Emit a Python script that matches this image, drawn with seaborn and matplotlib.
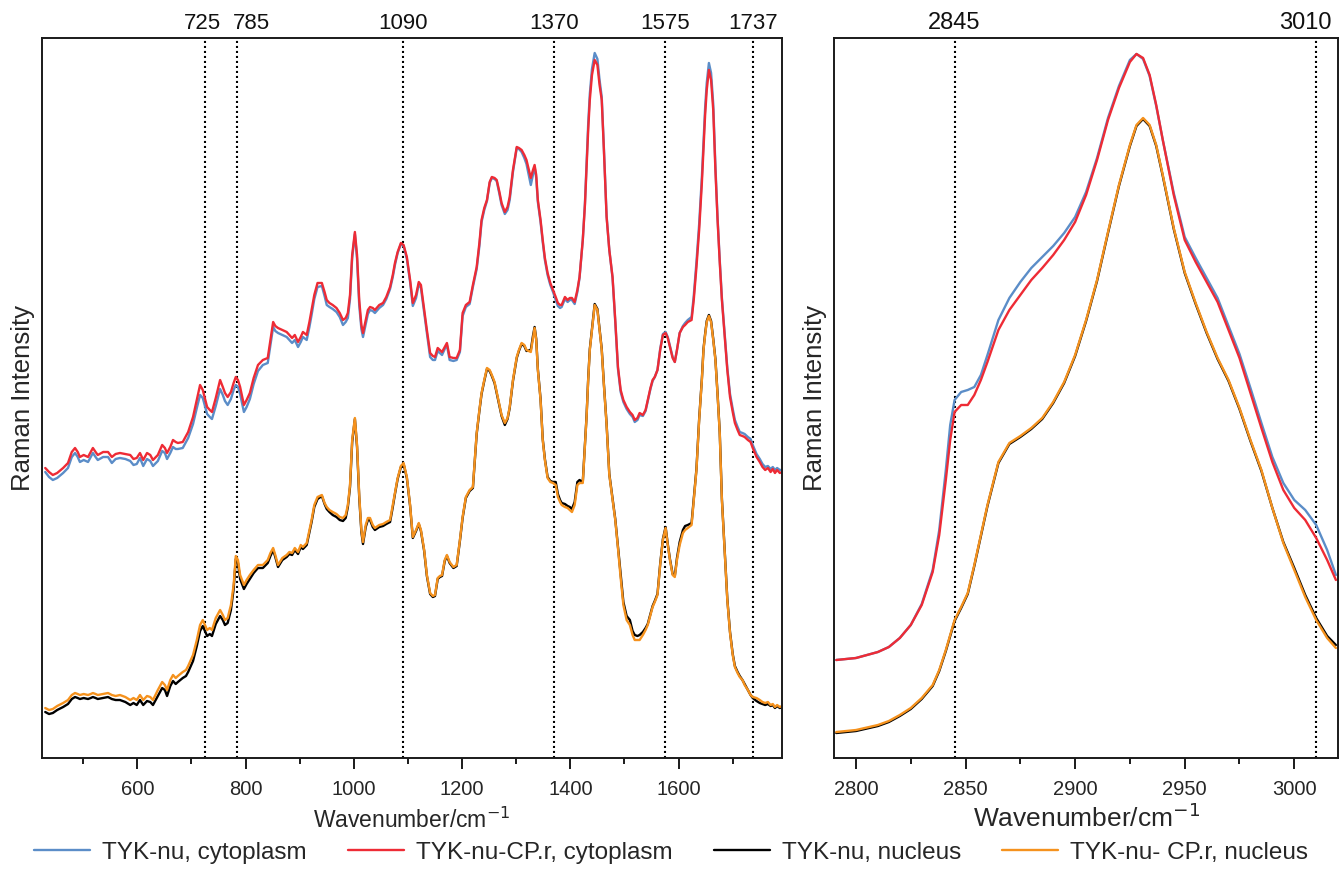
import numpy as np
import pandas as pd
import matplotlib
matplotlib.use("Agg")
import matplotlib.pyplot as plt
import matplotlib.transforms as mtransforms
from matplotlib.ticker import MultipleLocator
import seaborn as sns

# ---------------- data (arbitrary intensity units) ----------------
series_names = ["TYK-nu, cytoplasm", "TYK-nu-CP.r, cytoplasm",
                "TYK-nu, nucleus", "TYK-nu- CP.r, nucleus"]
series_colors = ["#5B8DC8", "#EE2B35", "#000000", "#F5921E"]

wn_fingerprint = [
    430, 437, 444, 452, 463, 472, 479, 485, 490, 494,
    501, 509, 514, 518, 523, 527, 537, 546, 553, 560,
    568, 578, 587, 593, 599, 605, 611, 618, 624, 629,
    638, 646, 651, 655, 661, 666, 671, 675, 684, 690,
    694, 703, 710, 716, 721, 729, 734, 738, 745, 753,
    758, 762, 767, 773, 778, 782, 786, 790, 797, 802,
    808, 815, 823, 832, 841, 846, 851, 855, 860, 868,
    876, 881, 886, 891, 897, 902, 906, 913, 918, 922,
    927, 933, 941, 946, 950, 955, 961, 968, 974, 980,
    985, 989, 993, 997, 1002, 1006, 1010, 1014, 1017, 1022,
    1026, 1030, 1035, 1039, 1047, 1054, 1060, 1067, 1072, 1076,
    1081, 1087, 1092, 1098, 1104, 1109, 1115, 1120, 1124, 1130,
    1135, 1141, 1146, 1150, 1155, 1159, 1163, 1168, 1172, 1177,
    1184, 1190, 1196, 1201, 1207, 1214, 1220, 1227, 1232, 1236,
    1241, 1246, 1251, 1255, 1260, 1264, 1269, 1273, 1279, 1284,
    1288, 1294, 1301, 1305, 1310, 1315, 1319, 1327, 1331, 1334,
    1337, 1340, 1345, 1349, 1353, 1358, 1363, 1368, 1373, 1377,
    1381, 1384, 1390, 1395, 1399, 1403, 1408, 1413, 1417, 1423,
    1427, 1430, 1433, 1436, 1440, 1445, 1450, 1454, 1458, 1462,
    1467, 1472, 1478, 1483, 1488, 1493, 1498, 1504, 1510, 1515,
    1519, 1524, 1528, 1534, 1539, 1543, 1548, 1552, 1556, 1561,
    1566, 1571, 1576, 1580, 1584, 1589, 1593, 1597, 1602, 1608,
    1612, 1617, 1624, 1628, 1633, 1638, 1643, 1646, 1649, 1652,
    1656, 1660, 1664, 1668, 1672, 1676, 1680, 1685, 1690, 1695,
    1700, 1704, 1709, 1713, 1718, 1722, 1728, 1733, 1737, 1744,
    1750, 1755, 1760, 1765, 1770, 1774, 1778, 1782, 1787, 1791,
]

cyto_nu_fp = [
    328, 323, 320, 322, 327, 332, 343, 347, 343, 338,
    340, 338, 343, 347, 343, 340, 343, 343, 337, 341,
    342, 341, 339, 335, 336, 342, 334, 341, 339, 334,
    339, 349, 347, 341, 347, 353, 351, 351, 352, 358,
    362, 376, 392, 405, 402, 386, 383, 381, 394, 411,
    405, 399, 395, 401, 410, 415, 413, 406, 388, 393,
    401, 416, 429, 435, 437, 455, 473, 469, 467, 465,
    463, 460, 457, 460, 453, 458, 463, 460, 473, 485,
    501, 513, 514, 504, 495, 493, 491, 488, 483, 475,
    478, 482, 501, 542, 566, 541, 495, 471, 463, 476,
    486, 490, 489, 487, 492, 495, 501, 511, 523, 535,
    547, 556, 554, 541, 518, 494, 502, 516, 512, 487,
    467, 443, 440, 440, 449, 447, 445, 451, 455, 440,
    439, 440, 448, 484, 493, 496, 513, 531, 554, 578,
    590, 599, 617, 622, 621, 619, 606, 595, 586, 590,
    600, 628, 652, 651, 648, 642, 636, 615, 625, 633,
    622, 598, 578, 558, 540, 525, 515, 508, 500, 494,
    492, 493, 501, 498, 500, 500, 496, 508, 522, 560,
    597, 637, 676, 706, 731, 747, 741, 720, 703, 652,
    584, 550, 522, 478, 431, 408, 398, 391, 386, 383,
    378, 380, 385, 384, 389, 399, 411, 419, 423, 430,
    451, 466, 468, 463, 454, 443, 438, 450, 467, 474,
    477, 480, 483, 504, 538, 576, 623, 657, 692, 717,
    737, 727, 696, 634, 582, 540, 502, 467, 432, 406,
    391, 380, 373, 368, 367, 366, 363, 361, 355, 346,
    341, 336, 333, 334, 331, 333, 330, 332, 330, 330,
]

cyto_cp_fp = [
    332, 328, 325, 327, 332, 337, 348, 352, 348, 343,
    345, 343, 348, 352, 348, 345, 348, 348, 343, 346,
    347, 346, 345, 341, 342, 347, 340, 347, 345, 340,
    345, 355, 352, 347, 353, 360, 358, 357, 358, 364,
    368, 383, 400, 415, 410, 393, 390, 388, 402, 420,
    413, 407, 403, 408, 417, 423, 420, 413, 395, 400,
    407, 422, 435, 440, 442, 460, 478, 474, 472, 470,
    468, 465, 462, 465, 458, 463, 468, 465, 478, 490,
    505, 517, 517, 508, 500, 497, 495, 492, 487, 480,
    482, 487, 505, 545, 568, 545, 500, 475, 467, 480,
    490, 493, 492, 490, 495, 497, 503, 513, 525, 537,
    548, 557, 555, 543, 520, 497, 505, 518, 515, 490,
    470, 447, 444, 443, 452, 450, 448, 453, 457, 443,
    442, 442, 450, 487, 495, 498, 515, 533, 557, 580,
    592, 600, 618, 623, 622, 620, 608, 597, 588, 593,
    603, 630, 653, 652, 650, 645, 640, 622, 630, 635,
    625, 600, 580, 560, 542, 527, 517, 510, 503, 497,
    495, 495, 503, 500, 502, 502, 498, 510, 523, 560,
    595, 633, 670, 700, 725, 740, 735, 715, 700, 650,
    583, 550, 523, 480, 433, 410, 400, 393, 388, 385,
    380, 382, 387, 385, 390, 400, 412, 420, 423, 430,
    450, 465, 467, 462, 453, 442, 438, 450, 467, 473,
    475, 478, 480, 500, 533, 570, 617, 650, 685, 710,
    730, 720, 690, 630, 580, 538, 500, 465, 430, 403,
    388, 377, 370, 365, 364, 363, 360, 358, 352, 343,
    338, 333, 330, 332, 328, 331, 327, 330, 327, 328,
]

nucl_nu_fp = [
    88, 86, 87, 90, 93, 96, 101, 103, 102, 101,
    102, 101, 102, 103, 102, 101, 102, 103, 101, 100,
    100, 98, 95, 97, 95, 100, 95, 99, 98, 95,
    104, 112, 110, 104, 114, 119, 116, 118, 122, 124,
    128, 139, 154, 169, 174, 164, 166, 164, 176, 184,
    180, 175, 177, 190, 211, 241, 237, 221, 211, 216,
    221, 227, 232, 232, 237, 244, 250, 243, 233, 240,
    243, 246, 245, 250, 246, 253, 251, 255, 268, 278,
    293, 301, 304, 296, 291, 288, 285, 283, 280, 279,
    282, 293, 313, 358, 381, 353, 303, 268, 256, 273,
    280, 280, 273, 270, 273, 274, 276, 278, 293, 306,
    321, 333, 336, 322, 294, 262, 269, 276, 269, 249,
    224, 206, 203, 204, 221, 223, 224, 239, 244, 237,
    232, 234, 259, 282, 302, 309, 312, 366, 389, 406,
    419, 431, 429, 424, 417, 407, 394, 384, 375, 381,
    392, 419, 442, 449, 456, 454, 449, 450, 464, 473,
    461, 431, 401, 361, 341, 323, 319, 318, 318, 306,
    300, 297, 296, 294, 293, 291, 298, 318, 320, 318,
    356, 384, 421, 451, 471, 496, 491, 471, 451, 416,
    376, 326, 301, 281, 253, 224, 198, 184, 180, 169,
    165, 164, 165, 168, 172, 176, 186, 194, 199, 206,
    236, 261, 273, 256, 241, 226, 224, 242, 258, 270,
    274, 275, 277, 301, 331, 381, 421, 451, 466, 479,
    485, 479, 461, 441, 406, 368, 301, 251, 201, 168,
    146, 134, 128, 124, 120, 116, 110, 105, 102, 99,
    97, 96, 95, 96, 94, 95, 92, 94, 92, 93,
]

nucl_cp_fp = [
    92, 90, 91, 94, 97, 100, 105, 107, 106, 105,
    106, 105, 106, 107, 106, 105, 106, 107, 105, 104,
    105, 103, 100, 102, 100, 105, 100, 104, 103, 100,
    110, 118, 115, 110, 120, 125, 122, 124, 128, 130,
    134, 145, 160, 175, 180, 170, 172, 170, 182, 190,
    185, 180, 182, 195, 215, 244, 240, 225, 215, 220,
    225, 230, 235, 235, 240, 247, 252, 245, 235, 242,
    245, 248, 247, 252, 248, 255, 253, 257, 270, 280,
    295, 303, 305, 297, 293, 290, 288, 286, 283, 282,
    285, 295, 315, 360, 382, 355, 305, 270, 258, 275,
    282, 282, 275, 272, 275, 276, 278, 280, 295, 307,
    322, 334, 337, 323, 295, 263, 270, 277, 270, 250,
    225, 207, 204, 205, 222, 224, 225, 240, 245, 238,
    233, 235, 260, 283, 303, 310, 313, 367, 390, 407,
    420, 432, 430, 425, 418, 408, 395, 385, 377, 382,
    393, 420, 443, 450, 457, 455, 450, 448, 462, 472,
    460, 430, 400, 360, 340, 322, 318, 317, 315, 303,
    298, 295, 293, 292, 290, 288, 295, 315, 317, 317,
    355, 383, 420, 450, 470, 495, 490, 470, 450, 415,
    375, 325, 300, 280, 252, 222, 195, 180, 175, 165,
    160, 160, 160, 165, 170, 175, 185, 193, 198, 205,
    235, 260, 272, 255, 240, 225, 223, 240, 255, 267,
    270, 272, 275, 300, 330, 380, 420, 450, 465, 478,
    484, 478, 460, 440, 405, 367, 300, 250, 200, 167,
    145, 133, 127, 123, 120, 115, 110, 105, 103, 102,
    100, 98, 97, 98, 95, 96, 93, 95, 93, 94,
]

wn_ch = [
    2791, 2800, 2810, 2815, 2820, 2825, 2830, 2835, 2838, 2841,
    2843, 2845, 2848, 2851, 2854, 2857, 2860, 2865, 2870, 2875,
    2880, 2885, 2890, 2895, 2900, 2905, 2910, 2915, 2920, 2925,
    2928, 2931, 2934, 2937, 2940, 2945, 2950, 2955, 2960, 2965,
    2970, 2975, 2980, 2985, 2990, 2995, 3000, 3005, 3010, 3015,
    3019,
]
cyto_nu_ch = [
    140, 142, 148, 153, 162, 175, 196, 230, 270, 330,
    375, 400, 408, 410, 413, 425, 445, 480, 502, 518,
    532, 543, 554, 567, 583, 608, 642, 682, 714, 740,
    746, 741, 724, 694, 660, 607, 563, 542, 522, 502,
    474, 446, 412, 377, 343, 317, 300, 290, 275, 250,
    225,
]
cyto_cp_ch = [
    140, 142, 148, 153, 162, 175, 195, 228, 265, 320,
    360, 388, 395, 395, 405, 420, 438, 470, 490, 505,
    520, 532, 545, 560, 578, 605, 640, 680, 712, 738,
    746, 742, 725, 695, 660, 605, 560, 538, 518, 498,
    470, 442, 407, 372, 338, 310, 292, 280, 262, 240,
    220,
]
nucl_nu_ch = [
    67, 69, 74, 78, 84, 91, 101, 114, 129, 149,
    164, 179, 192, 206, 234, 264, 294, 337, 356, 363,
    371, 381, 397, 417, 444, 479, 519, 567, 614, 654,
    674, 681, 674, 654, 624, 571, 527, 496, 467, 441,
    419, 391, 359, 329, 292, 258, 232, 205, 182, 164,
    155,
]
nucl_cp_ch = [
    68, 70, 75, 79, 85, 92, 102, 115, 130, 150,
    165, 180, 193, 207, 235, 265, 295, 338, 357, 364,
    372, 382, 398, 418, 445, 480, 520, 568, 615, 655,
    675, 682, 675, 655, 625, 572, 528, 497, 468, 442,
    420, 392, 360, 330, 292, 257, 230, 203, 180, 162,
    152,
]

marks_fingerprint = [725, 785, 1090, 1370, 1575, 1737]
marks_ch = [2845, 3010]

# ---------------- style ----------------
sns.set_theme(style="ticks")
plt.rcParams["font.family"] = ["Liberation Sans", "DejaVu Sans"]
plt.rcParams["axes.linewidth"] = 1.4
plt.rcParams["axes.edgecolor"] = "#1a1a1a"

fig = plt.figure(figsize=(13.42, 8.81), dpi=100)
ax1 = fig.add_axes([0.0313, 0.1396, 0.5514, 0.8173])
ax2 = fig.add_axes([0.6215, 0.1396, 0.3756, 0.8173])


def long_frame(wn, cols):
    frames = []
    for name, vals in zip(series_names, cols):
        frames.append(pd.DataFrame({"wn": wn, "intensity": vals, "series": name}))
    return pd.concat(frames, ignore_index=True)


df1 = long_frame(wn_fingerprint, [cyto_nu_fp, cyto_cp_fp, nucl_nu_fp, nucl_cp_fp])
df2 = long_frame(wn_ch, [cyto_nu_ch, cyto_cp_ch, nucl_nu_ch, nucl_cp_ch])
palette = dict(zip(series_names, series_colors))

for ax, df in ((ax1, df1), (ax2, df2)):
    sns.lineplot(data=df, x="wn", y="intensity", hue="series", hue_order=series_names,
                 palette=palette, estimator=None, sort=False, linewidth=1.7,
                 legend=False, ax=ax)
    ax.set_ylim(42, 762)
    ax.set_yticks([])
    for s in ax.spines.values():
        s.set_visible(True)
        s.set_linewidth(1.4)

ax1.set_xlim(424, 1791)
ax2.set_xlim(2790, 3020)

ax1.xaxis.set_major_locator(MultipleLocator(200))
ax1.xaxis.set_minor_locator(MultipleLocator(100))
ax2.xaxis.set_major_locator(MultipleLocator(50))
ax2.xaxis.set_minor_locator(MultipleLocator(25))
for ax in (ax1, ax2):
    ax.tick_params(axis="x", which="major", direction="out", length=8, width=1.4,
                   color="#1a1a1a", bottom=True, top=False, pad=8)
    ax.tick_params(axis="x", which="minor", direction="out", length=4, width=1.4,
                   color="#1a1a1a", bottom=True, top=False)
ax1.tick_params(axis="x", labelsize=14.5)
ax2.tick_params(axis="x", labelsize=14.5)

# dotted reference lines with labels above the frame
for ax, marks, fs, shifts in ((ax1, marks_fingerprint, 16, {785: 10, 725: -2}),
                              (ax2, marks_ch, 17, {3010: -8})):
    trans = mtransforms.blended_transform_factory(ax.transData, ax.transAxes)
    for m in marks:
        ax.axvline(m, color="black", linestyle=(0, (1, 1.4)), linewidth=1.5, zorder=1)
        ax.annotate(str(m), xy=(m, 1.0), xycoords=trans, xytext=(shifts.get(m, 0), 3),
                    textcoords="offset points", ha="center", va="bottom",
                    fontsize=fs, color="#111111", annotation_clip=False)

ax1.set_xlabel("Wavenumber/cm$^{-1}$", fontsize=16.5, labelpad=6)
ax2.set_xlabel("Wavenumber/cm$^{-1}$", fontsize=19, labelpad=3)
ax1.set_ylabel("Raman Intensity", fontsize=18.5, labelpad=5)
ax2.set_ylabel("Raman Intensity", fontsize=18.5, labelpad=5)

handles = ax1.get_lines()[:4]
fig.legend(handles, series_names, loc="center", bbox_to_anchor=(0.5, 0.032), ncol=4,
           frameon=False, fontsize=17.5, handlelength=2.3, handletextpad=0.5,
           columnspacing=1.7)

fig.savefig("out.png", dpi=100)
